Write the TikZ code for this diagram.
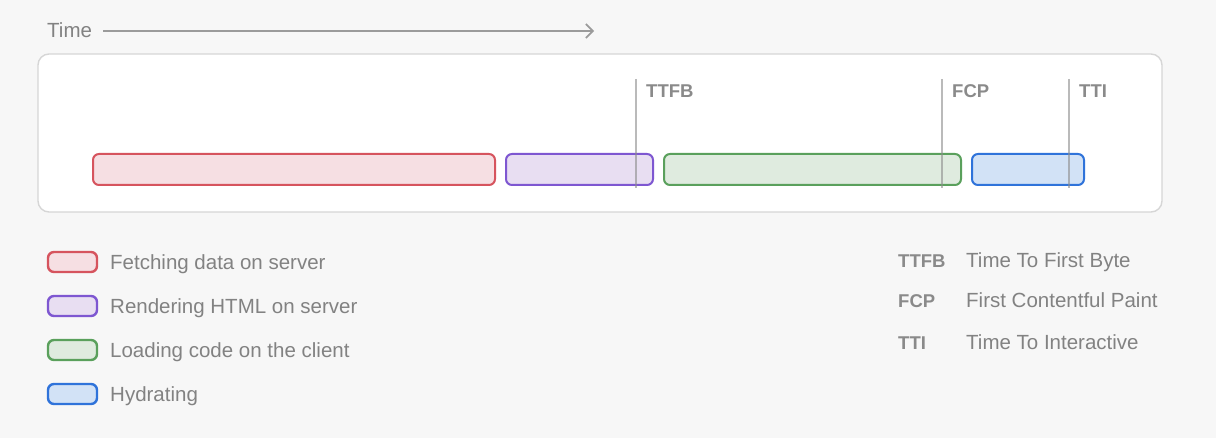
\documentclass[tikz,border=0pt]{standalone}
\usepackage{fontspec}
\setmainfont{Liberation Sans}
\usetikzlibrary{arrows.meta}

\definecolor{bgcol}{HTML}{F7F7F7}
\definecolor{panelline}{HTML}{D6D6D6}
\definecolor{txtgray}{HTML}{828282}
\definecolor{markgray}{HTML}{8A8A8A}
\definecolor{fetchline}{HTML}{D6545E}
\definecolor{fetchfill}{HTML}{F6DFE3}
\definecolor{renderline}{HTML}{7E57D1}
\definecolor{renderfill}{HTML}{E8DEF2}
\definecolor{loadline}{HTML}{5AA05C}
\definecolor{loadfill}{HTML}{DFEBDF}
\definecolor{hydrline}{HTML}{2F73DA}
\definecolor{hydrfill}{HTML}{D2E2F6}

\tikzset{
  phase/.style={draw=#1line, fill=#1fill, line width=2pt, rounded corners=6pt,
                minimum height=31pt, inner sep=0pt, anchor=west},
  swatch/.style={draw=#1line, fill=#1fill, line width=2.4pt, rounded corners=6pt,
                 minimum width=49pt, minimum height=20pt, inner sep=0pt},
  lbl/.style={text=txtgray, font=\fontsize{20.5}{24}\selectfont, inner sep=0pt, anchor=base west},
  marklbl/.style={text=markgray, font=\fontsize{18.5}{22}\selectfont\bfseries, inner sep=0pt, anchor=base west},
  markline/.style={draw=black!45, opacity=.6, line width=2pt},
}

\begin{document}
\begin{tikzpicture}
    [
      x=1pt, y=-1pt,
    ]
    % background
    \fill [bgcol] (0,0) rectangle (1216,438);
    \useasboundingbox (0,0) rectangle (1216,438);

    % time axis
    \node [lbl] (time) at (47, 38) {Time};
    \coordinate (timeend) at (594, 31);
    \draw [txtgray!80, line width=1.6pt, -{Straight Barb[length=7pt, width=14pt, line width=1.6pt]}]
      (103, 31) coordinate (timestart) -- (timeend);

    % panel
    \draw [panelline, fill=white, line width=1.4pt, rounded corners=11pt] (38,54) rectangle (1162,212);

    % phases
    \node [phase=fetch,  minimum width=402pt] (fetch)  at (92, 169.5)  {};
    \node [phase=render, minimum width=147pt] (render) at (505, 169.5) {};
    \node [phase=load,   minimum width=297pt] (load)   at (663, 169.5) {};
    \node [phase=hydr,   minimum width=112pt] (hydr)   at (971, 169.5) {};

    % markers
    \foreach \m/\x/\t in {ttfb/636/TTFB, fcp/942/FCP, tti/1069/TTI} {
      \coordinate (\m top) at (\x, 79);
      \coordinate (\m bot) at (\x, 188);
      \draw [markline] (\m top) -- (\m bot);
      \node [marklbl] (\m) at (\x + 10, 97.5) {\t};
    }

    % legend phases
    \foreach \s/\y/\t in {fetch/262/Fetching data on server,
                          render/306/Rendering HTML on server,
                          load/350/Loading code on the client,
                          hydr/394/Hydrating} {
      \node [swatch=\s] (\s key) at (72.5, \y) {};
      \node [lbl] (\s txt) at (110, \y + 7.3) {\t};
    }

    % legend markers
    \foreach \m/\y/\a/\t in {ttfb/268/TTFB/Time To First Byte,
                             fcp/308/FCP/First Contentful Paint,
                             tti/349/TTI/Time To Interactive} {
      \node [marklbl] (\m abbr) at (898, \y) {\a};
      \node [lbl] (\m txt) at (966, \y) {\t};
    }
  \end{tikzpicture}
\end{document}
